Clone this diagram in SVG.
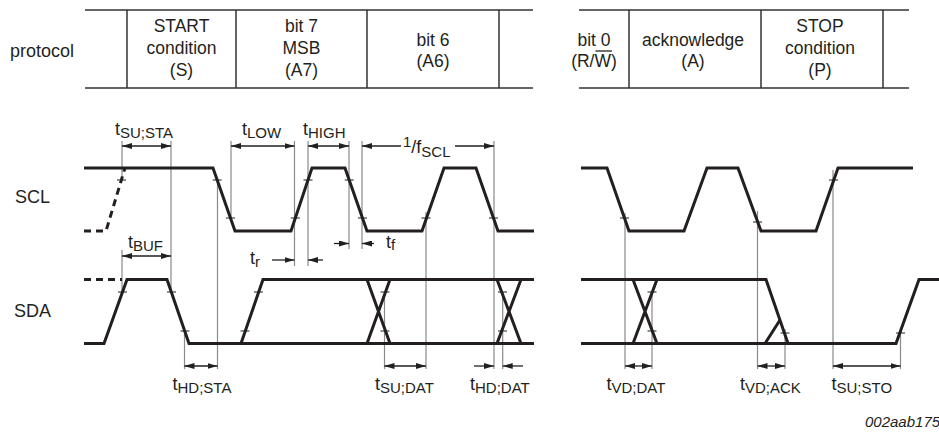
<svg xmlns="http://www.w3.org/2000/svg" width="939" height="433" viewBox="0 0 939 433">
<style>
text{font-family:"Liberation Sans",Arial,Helvetica,sans-serif;fill:#231f20}
.t{font-size:18px}
.tc{font-size:17.5px;text-anchor:middle}
.sub{font-size:15px}
.wave{fill:none;stroke:#231f20;stroke-width:3;stroke-linejoin:miter}
.dash{fill:none;stroke:#231f20;stroke-width:3;stroke-dasharray:7 5}
.tbl{stroke:#333;stroke-width:1.5;fill:none}
.guide{stroke:#8a8a8a;stroke-width:1.2;fill:none}
.tick{stroke:#231f20;stroke-width:1.2}
.dim{stroke:#231f20;stroke-width:1.3;fill:none}
.both{marker-start:url(#ah);marker-end:url(#ah)}
.end{marker-end:url(#ah)}
</style>
<defs>
<marker id="ah" markerUnits="userSpaceOnUse" markerWidth="10" markerHeight="6" refX="10" refY="3" orient="auto-start-reverse"><path d="M0,0 L10,3 L0,6 z" fill="#231f20"/></marker>
</defs>
<rect width="939" height="433" fill="#fff"/>

<g id="protocol-table">
<path class="tbl" d="M85,10 H533 M85,88 H533 M579,10 H909 M579,88 H909 M127,10 V88 M236,10 V88 M367,10 V88 M499,10 V88 M629,10 V88 M761,10 V88 M883,10 V88"/>
<text class="t" x="10" y="57">protocol</text>
<text class="tc" x="181.5" y="31.5">START</text>
<text class="tc" x="181.5" y="54">condition</text>
<text class="tc" x="181.5" y="76">(S)</text>
<text class="tc" x="301.5" y="31.5">bit 7</text>
<text class="tc" x="301.5" y="54">MSB</text>
<text class="tc" x="301.5" y="76">(A7)</text>
<text class="tc" x="433" y="46">bit 6</text>
<text class="tc" x="433" y="66.5">(A6)</text>
<text class="tc" x="594" y="46">bit 0</text>
<text class="tc" x="594" y="66.5">(R/W)</text>
<line x1="595.5" y1="51" x2="612" y2="51" stroke="#231f20" stroke-width="1.3"/>
<text class="tc" x="693" y="46">acknowledge</text>
<text class="tc" x="693" y="66.5">(A)</text>
<text class="tc" x="820" y="31.5">STOP</text>
<text class="tc" x="820" y="54">condition</text>
<text class="tc" x="820" y="76">(P)</text>
</g>

<g id="signal-labels">
<text class="t" x="15" y="203">SCL</text>
<text class="t" x="14" y="317">SDA</text>
</g>

<g id="guides">
<path class="guide" d="M122,141 V181 M122,250 V293 M171,141 V293 M217.5,180 V369 M231,141 V218 M294.5,141 V266 M308,141 V266 M349,141 V249 M362,141 V249 M426,212 V369 M494,141 V369 M184.5,331 V369 M384.5,292 V369 M502.7,292 V369 M625,213 V369 M652,292 V369 M757.5,211 V369 M785,329 V369 M833,170 V369 M900.5,330 V369"/>
</g>

<g id="scl">
<path class="dash" d="M84,231 H106 L125,168"/>
<path class="wave" d="M84,168 H213 L235,231 H291 L312,168 H345 L367,231 H422 L444,168 H476 L498,231 H534"/>
<path class="wave" d="M581,168 H607 L629,231 H684 L707,168 H738 L761,231 H816 L838,168 H913"/>
</g>

<g id="sda">
<path class="dash" d="M84,279.5 H122"/>
<path class="wave" d="M84,343.5 H104 L127,279.5 H167 L189,343.5 H534"/>
<path class="wave" d="M241,343.5 L263,279.5 H534"/>
<path class="wave" d="M367,279.5 L390,343.5 M367,343.5 L390,279.5 M497,279.5 L521,343.5 M497,343.5 L521,279.5"/>
<path class="wave" d="M581,279.5 H766 L788,343.5 M581,343.5 H896 L919,279.5 H939"/>
<path class="wave" d="M633,279.5 L657,343.5 M633,343.5 L657,279.5 M765,343.5 L780,320"/>
</g>

<g id="ticks">
<path class="tick" d="M117,180 h9 M212.7,180 h9 M226,218 h9 M290.8,218 h9 M303.5,180 h9 M344.7,180 h9 M358,218 h9 M421.5,218 h9 M489,218 h9 M620,218 h9 M753,222 h9 M829,180 h9 M118,292 h9 M167,292 h9 M180.5,331 h9 M240.5,331 h9 M254,292 h9 M380.5,292 h9 M380.5,331 h9 M498,292 h9 M498,331 h9 M647.5,292 h9 M647.5,331 h9 M780.5,333 h9 M896,333 h9"/>
</g>

<g id="connectors">
<line class="dim both" x1="122" y1="146" x2="171" y2="146"/>
<line class="dim both" x1="231" y1="146" x2="294.5" y2="146"/>
<line class="dim both" x1="308" y1="146" x2="349" y2="146"/>
<line class="dim end" x1="401" y1="146" x2="362" y2="146"/>
<line class="dim end" x1="455" y1="146" x2="494" y2="146"/>
<line class="dim both" x1="122" y1="256" x2="171" y2="256"/>
<line class="dim end" x1="272" y1="260" x2="294.5" y2="260"/>
<line class="dim end" x1="323" y1="260" x2="308" y2="260"/>
<line class="dim end" x1="334" y1="243.5" x2="349" y2="243.5"/>
<line class="dim end" x1="374" y1="243.5" x2="362" y2="243.5"/>
<line class="dim both" x1="184.5" y1="366" x2="217.5" y2="366"/>
<line class="dim both" x1="384.5" y1="366" x2="426" y2="366"/>
<line class="dim end" x1="474" y1="366" x2="494" y2="366"/>
<line class="dim end" x1="523" y1="366" x2="502.7" y2="366"/>
<line class="dim both" x1="625" y1="366" x2="652" y2="366"/>
<line class="dim both" x1="757.5" y1="366" x2="785" y2="366"/>
<line class="dim both" x1="833" y1="366" x2="900.5" y2="366"/>
</g>

<g id="timing-labels">
<text class="t" x="115" y="135">t<tspan class="sub" dy="2.5">SU;STA</tspan></text>
<text class="t" x="242" y="135">t<tspan class="sub" dy="2.5">LOW</tspan></text>
<text class="t" x="303" y="135">t<tspan class="sub" dy="2.5">HIGH</tspan></text>
<text class="t" x="403" y="153"><tspan class="sub" dy="-6">1</tspan><tspan dy="6">/f</tspan><tspan class="sub" dy="3.5">SCL</tspan></text>
<text class="t" x="128" y="248">t<tspan class="sub" dy="2.5">BUF</tspan></text>
<text class="t" x="250" y="264">t<tspan class="sub" dy="2.5">r</tspan></text>
<text class="t" x="386" y="247.5">t<tspan class="sub" dy="2.5">f</tspan></text>
<text class="t" x="172.5" y="390">t<tspan class="sub" dy="2.5">HD;STA</tspan></text>
<text class="t" x="375" y="390">t<tspan class="sub" dy="2.5">SU;DAT</tspan></text>
<text class="t" x="470" y="390">t<tspan class="sub" dy="2.5">HD;DAT</tspan></text>
<text class="t" x="606.5" y="390">t<tspan class="sub" dy="2.5">VD;DAT</tspan></text>
<text class="t" x="740" y="390">t<tspan class="sub" dy="2.5">VD;ACK</tspan></text>
<text class="t" x="831.5" y="390">t<tspan class="sub" dy="2.5">SU;STO</tspan></text>
<text x="865" y="427" style="font-size:15px;font-style:italic">002aab175</text>
</g>
</svg>
